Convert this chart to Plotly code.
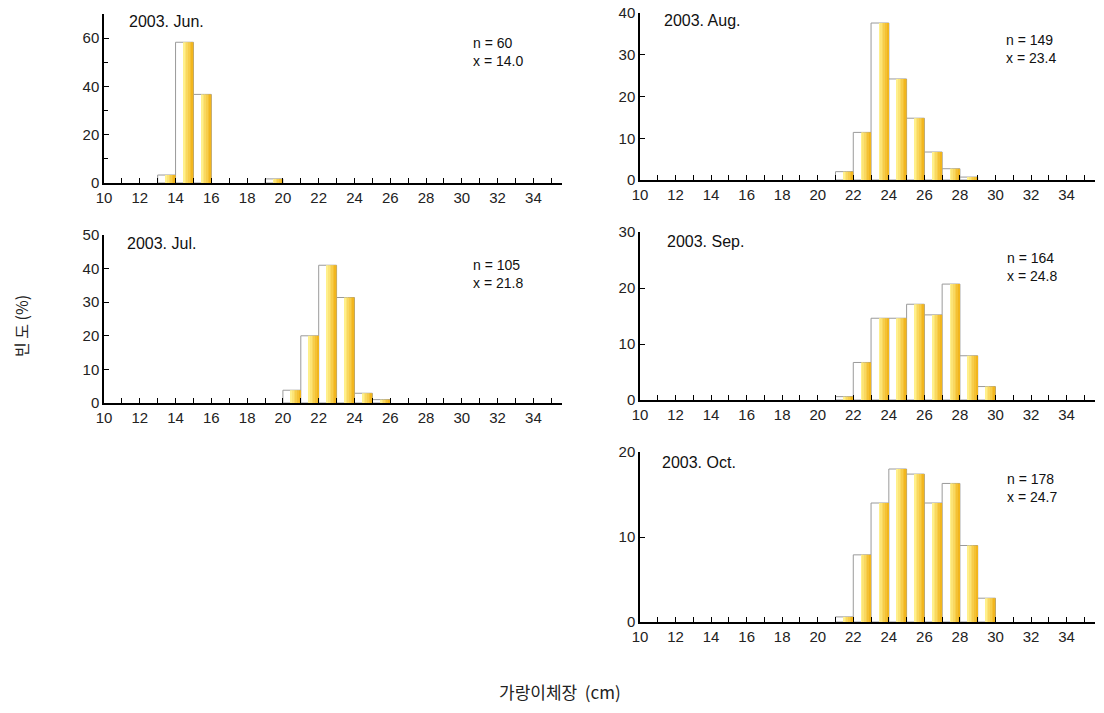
import plotly.graph_objects as go

# ---- data (length class in cm, frequency %) ----
jun_len = [13, 14, 15, 19]
jun_pct = [3.3, 58.3, 36.7, 1.7]

jul_len = [20, 21, 22, 23, 24, 25]
jul_pct = [3.8, 20.0, 41.0, 31.4, 2.9, 1.0]

aug_len = [21, 22, 23, 24, 25, 26, 27, 28]
aug_pct = [2.0, 11.4, 37.6, 24.2, 14.8, 6.7, 2.7, 0.7]

sep_len = [21, 22, 23, 24, 25, 26, 27, 28, 29]
sep_pct = [0.6, 6.7, 14.6, 14.6, 17.1, 15.2, 20.7, 7.9, 2.4]

oct_len = [21, 22, 23, 24, 25, 26, 27, 28, 29]
oct_pct = [0.6, 7.9, 14.0, 18.0, 17.4, 14.0, 16.3, 9.0, 2.8]

titles = ["2003. Jun.", "2003. Jul.", "2003. Aug.", "2003. Sep.", "2003. Oct."]
n_vals = [60, 105, 149, 164, 178]
mean_vals = ["14.0", "21.8", "23.4", "24.8", "24.7"]
y_max = [70, 50, 40, 30, 20]
y_major = [20, 10, 10, 10, 10]
x_tick_vals = list(range(10, 35, 2))

W, H = 1104, 713
# panel pixel boxes: x0, x1, ytop, ybottom
boxes = [
    (104, 562, 14, 183),
    (104, 562, 235, 403),
    (640, 1095, 13, 180),
    (640, 1095, 232, 400),
    (640, 1095, 452, 622),
]
title_pos = [(127, 21), (125, 243), (662, 20), (665, 241), (660, 462)]
n_pos = [(471, 33), (471, 255), (1004, 30), (1005, 248), (1005, 469)]

series = [(jun_len, jun_pct), (jul_len, jul_pct), (aug_len, aug_pct),
          (sep_len, sep_pct), (oct_len, oct_pct)]

fig = go.Figure()

def lerp(c1, c2, t):
    return "rgb(%d,%d,%d)" % tuple(int(a + (b - a) * t) for a, b in zip(c1, c2))

strip_n = 6
strip_w = 0.55 / strip_n
c_start = (255, 240, 140)
c_end = (242, 182, 30)

layout = dict(width=W, height=H, margin=dict(l=0, r=0, t=0, b=0, autoexpand=False),
              paper_bgcolor="white", plot_bgcolor="white",
              barmode="overlay", showlegend=False,
              font=dict(family="Liberation Sans, Arial", size=13, color="#222"))

annotations = []
for i, ((lens, pcts), (x0, x1, yt, yb)) in enumerate(zip(series, boxes)):
    ax = "" if i == 0 else str(i + 1)
    xref, yref = "x" + ax, "y" + ax
    centers = [k + 0.5 for k in lens]
    fig.add_trace(go.Bar(x=centers, y=pcts, width=1.0, xaxis=xref, yaxis=yref,
                         marker=dict(color="white", line=dict(color="#9a9a9a", width=1)),
                         hoverinfo="x+y"))
    for s in range(strip_n):
        off = 0.45 + strip_w * (s + 0.5)
        fig.add_trace(go.Bar(x=[k + off for k in lens], y=pcts, width=strip_w,
                             xaxis=xref, yaxis=yref,
                             marker=dict(color=lerp(c_start, c_end, s / (strip_n - 1)),
                                         line=dict(width=0)),
                             hoverinfo="skip"))
    xa = dict(
        domain=[x0 / W, x1 / W], range=[10, 35.6], anchor=yref, automargin=False,
        showline=True, linecolor="black", linewidth=1.5, mirror=False,
        ticks="inside", ticklen=5, tickwidth=1, tickcolor="black",
        tickvals=x_tick_vals, ticktext=[str(v) for v in x_tick_vals],
        minor=dict(dtick=1, tick0=10, ticks="inside", ticklen=5, tickcolor="black"),
        showgrid=False, zeroline=False, fixedrange=True,
        tickfont=dict(size=15, color="#222"))
    ya = dict(
        domain=[1 - yb / H, 1 - yt / H], range=[0, y_max[i]], anchor=xref, automargin=False,
        showline=True, linecolor="black", linewidth=1.5,
        ticks="inside", ticklen=5, tickcolor="black",
        dtick=y_major[i], tick0=0,
        showgrid=False, zeroline=False, fixedrange=True,
        tickfont=dict(size=15, color="#222"))
    if i == 0:
        ya["minor"] = dict(dtick=10, ticks="inside", ticklen=4, tickcolor="black")
    layout["xaxis" + ax] = xa
    layout["yaxis" + ax] = ya
    tx, ty = title_pos[i]
    annotations.append(dict(x=tx / W, y=1 - ty / H, xref="paper", yref="paper",
                            text=titles[i], showarrow=False, xanchor="left", yanchor="middle",
                            font=dict(size=16, color="#111")))
    nx, ny = n_pos[i]
    annotations.append(dict(x=nx / W, y=1 - ny / H, xref="paper", yref="paper",
                            text="n = %d<br>x = %s" % (n_vals[i], mean_vals[i]),
                            showarrow=False, xanchor="left", yanchor="top", align="left",
                            font=dict(size=14, color="#111")))

annotations.append(dict(x=21 / W, y=1 - 326 / H, xref="paper", yref="paper",
                        text="빈 도 (%)", textangle=-90, showarrow=False,
                        xanchor="center", yanchor="middle",
                        font=dict(family="Noto Sans CJK KR", size=16, color="#222")))
annotations.append(dict(x=560 / W, y=1 - 691 / H, xref="paper", yref="paper",
                        text="가랑이체장  (cm)", showarrow=False,
                        xanchor="center", yanchor="middle",
                        font=dict(family="Noto Sans CJK KR", size=17, color="#222")))

layout["annotations"] = annotations
fig.update_layout(**layout)
fig.write_html("out.html", config={"displayModeBar": False},
               post_script="document.body.style.margin='0';document.body.style.overflow='hidden';")
